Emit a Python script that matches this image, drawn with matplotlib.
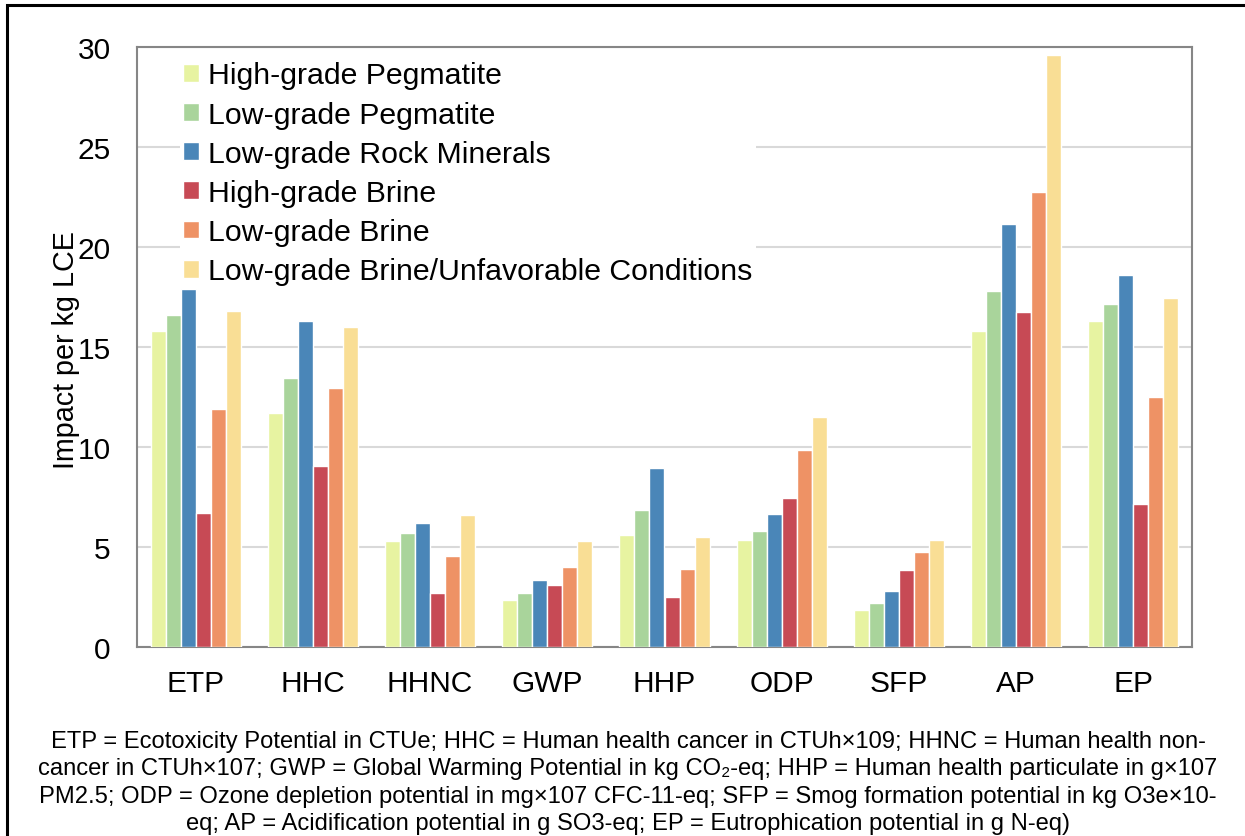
import matplotlib
matplotlib.use('Agg')
import matplotlib.pyplot as plt
import numpy as np
from matplotlib.patches import Rectangle

plt.rcParams['font.family'] = ['Liberation Sans', 'DejaVu Sans']

categories = ['ETP', 'HHC', 'HHNC', 'GWP', 'HHP', 'ODP', 'SFP', 'AP', 'EP']
series_names = ['High-grade Pegmatite', 'Low-grade Pegmatite', 'Low-grade Rock Minerals',
                'High-grade Brine', 'Low-grade Brine', 'Low-grade Brine/Unfavorable Conditions']
hg_peg = [15.8, 11.7, 5.3, 2.35, 5.6, 5.37, 1.85, 15.8, 16.3]
lg_peg = [16.6, 13.45, 5.68, 2.7, 6.87, 5.81, 2.21, 17.8, 17.15]
rock = [17.9, 16.3, 6.22, 3.37, 8.93, 6.64, 2.82, 21.15, 18.62]
hg_brine = [6.7, 9.07, 2.7, 3.08, 2.51, 7.44, 3.84, 16.73, 7.14]
lg_brine = [11.9, 12.97, 4.53, 3.98, 3.9, 9.85, 4.77, 22.74, 12.49]
unfav = [16.8, 16.0, 6.58, 5.3, 5.49, 11.48, 5.37, 29.6, 17.45]
colors = ['#E7F3A1', '#A9D49B', '#4A86B8', '#C74A55', '#EE9265', '#F9DE95']

caption_lines = [
    "ETP = Ecotoxicity Potential in CTUe; HHC = Human health cancer in CTUh\u00d7109; HHNC = Human health non-",
    "cancer in CTUh\u00d7107; GWP = Global Warming Potential in kg CO\u2082-eq; HHP = Human health particulate in g\u00d7107",
    "PM2.5; ODP = Ozone depletion potential in mg\u00d7107 CFC-11-eq; SFP = Smog formation potential in kg O3e\u00d710-",
    "eq; AP = Acidification potential in g SO3-eq; EP = Eutrophication potential in g N-eq)",
]

W, H = 1245, 837
fig = plt.figure(figsize=(W / 100, H / 100), dpi=100)
ax = fig.add_axes([137 / W, 1 - 648 / H, (1192 - 137) / W, (648 - 48) / H])

x = np.arange(len(categories))
width = 0.128
all_series = [hg_peg, lg_peg, rock, hg_brine, lg_brine, unfav]
for k, (vals, name, c) in enumerate(zip(all_series, series_names, colors)):
    ax.bar(x + (k - 2.5) * width, vals, width, color=c, edgecolor='white',
           linewidth=1.0, label=name, zorder=3)

ax.set_xlim(-0.5, len(categories) - 0.5)
ax.set_ylim(0, 30)
ax.set_yticks([0, 5, 10, 15, 20, 25, 30])
ax.set_xticks(x)
ax.set_xticklabels(categories)
ax.yaxis.grid(True, color='#D9D9D9', linewidth=1.5, zorder=0)
ax.set_axisbelow(True)
for s in ax.spines.values():
    s.set_color('#868686')
    s.set_linewidth(1.5)
ax.tick_params(axis='both', length=0, labelsize=21.5)
ax.tick_params(axis='y', pad=19)
ax.tick_params(axis='x', pad=16)

leg = ax.legend(loc='upper left', bbox_to_anchor=(0.035, 0.991), fontsize=21.8,
                frameon=True, facecolor='white', edgecolor='none', framealpha=1,
                handlelength=0.53, handleheight=0.53, handletextpad=0.3,
                labelspacing=0.37, borderpad=0.1, borderaxespad=0.2)
leg.set_zorder(5)

fig.text(66 / W, 1 - 350 / H, 'Impact per kg LCE', rotation=90, ha='center', va='center', fontsize=20.7)

# caption, one line at a time so the last one stays inside the picture
for i, line in enumerate(caption_lines):
    fig.text(628 / W, 1 - (748 + 27.5 * i) / H, line, ha='center', va='baseline', fontsize=17.1)

# outer border, cut at right and bottom like the reference
fig.patches.append(Rectangle((7 / W, -0.2), 1.5, 1.2 - 6 / H, transform=fig.transFigure,
                             fill=False, edgecolor='black', linewidth=2.2))

fig.savefig('out.png', dpi=100)
